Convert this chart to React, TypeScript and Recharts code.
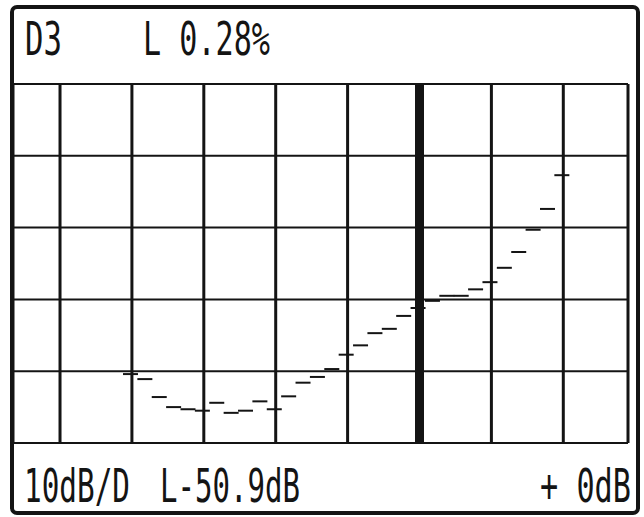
import { CartesianGrid, ComposedChart, ReferenceLine, Scatter, XAxis, YAxis } from "recharts";

const W = 644;
const H = 517;
const INK = "#141414";

// dash centres, in screen divisions counted from the first vertical line
const binPos = [
  0.98, 1.18, 1.38, 1.58, 1.78, 1.98, 2.18, 2.38, 2.58, 2.78, 2.98, 3.18, 3.38, 3.58, 3.78, 3.98,
  4.18, 4.38, 4.58, 4.78, 4.98, 5.18, 5.38, 5.58, 5.78, 5.98, 6.18, 6.38, 6.58, 6.78, 6.98,
];
// level per bin, dB below top line
const levelDb = [
  -40.4, -41.1, -43.6, -45.0, -45.3, -45.5, -44.4, -45.8, -45.5, -44.2, -45.3, -43.5, -41.6, -40.8,
  -39.7, -37.7, -36.4, -34.7, -34.1, -32.3, -31.2, -30.2, -29.5, -29.5, -28.6, -27.6, -25.6, -23.4,
  -20.3, -17.4, -12.7,
];
const xTicks = [0, 1, 2, 3, 4, 5, 6, 7];
const yTicks = [-50, -40, -30, -20, -10, 0];
const markerPos = 5;

const headerLeft = "D3";
const headerRight = "L 0.28%";
const footerLeft = "10dB/D";
const footerMid = "L-50.9dB";
const footerRight = "+ 0dB";

const data = binPos.map((x, i) => ({ x, y: levelDb[i] }));

function Dash(props: any) {
  const { cx, cy } = props;
  if (cx == null || cy == null) return null;
  return <line x1={cx - 7.5} x2={cx + 7.5} y1={cy} y2={cy} stroke={INK} strokeWidth={2} />;
}

// tall, narrow LCD-ish lettering: mono font squeezed sideways to the given width
const FS = 46;
function LcdText({ x, y, len, children }: { x: number; y: number; len: number; children: string }) {
  const sx = len / (children.length * 0.602 * FS);
  return (
    <text
      transform={`translate(${x},${y}) scale(${sx.toFixed(3)},1)`}
      fontFamily="DejaVu Sans Mono"
      fontSize={FS}
      fill={INK}
    >
      {children}
    </text>
  );
}

export default function App() {
  return (
    <div style={{ position: "absolute", left: 0, top: 0, width: W, height: H, background: "#fff" }}>
      <ComposedChart width={W} height={H} margin={{ top: 84, right: 16, bottom: 74, left: 13 }} data={data}>
        <XAxis type="number" dataKey="x" domain={[-0.654, 7.9]} ticks={xTicks} hide allowDataOverflow />
        <YAxis type="number" dataKey="y" domain={[-50, 0]} ticks={yTicks} hide allowDataOverflow />
        <CartesianGrid vertical={false} stroke={INK} strokeWidth={2} strokeOpacity={1} />
        <CartesianGrid horizontal={false} stroke={INK} strokeWidth={3} strokeOpacity={1} />
        <ReferenceLine x={markerPos} stroke={INK} strokeWidth={9} ifOverflow="visible" />
        <Scatter data={data} dataKey="y" shape={(p: any) => <Dash {...p} />} isAnimationActive={false} />
      </ComposedChart>
      <svg width={W} height={H} style={{ position: "absolute", left: 0, top: 0, pointerEvents: "none" }}>
        <rect x={12} y={7} width={626} height={506} rx={5} fill="none" stroke={INK} strokeWidth={4} />
        <LcdText x={25} y={55} len={37}>{headerLeft}</LcdText>
        <LcdText x={143} y={55} len={127}>{headerRight}</LcdText>
        <LcdText x={24} y={502} len={106}>{footerLeft}</LcdText>
        <LcdText x={160} y={502} len={140}>{footerMid}</LcdText>
        <LcdText x={540} y={502} len={91}>{footerRight}</LcdText>
      </svg>
    </div>
  );
}
